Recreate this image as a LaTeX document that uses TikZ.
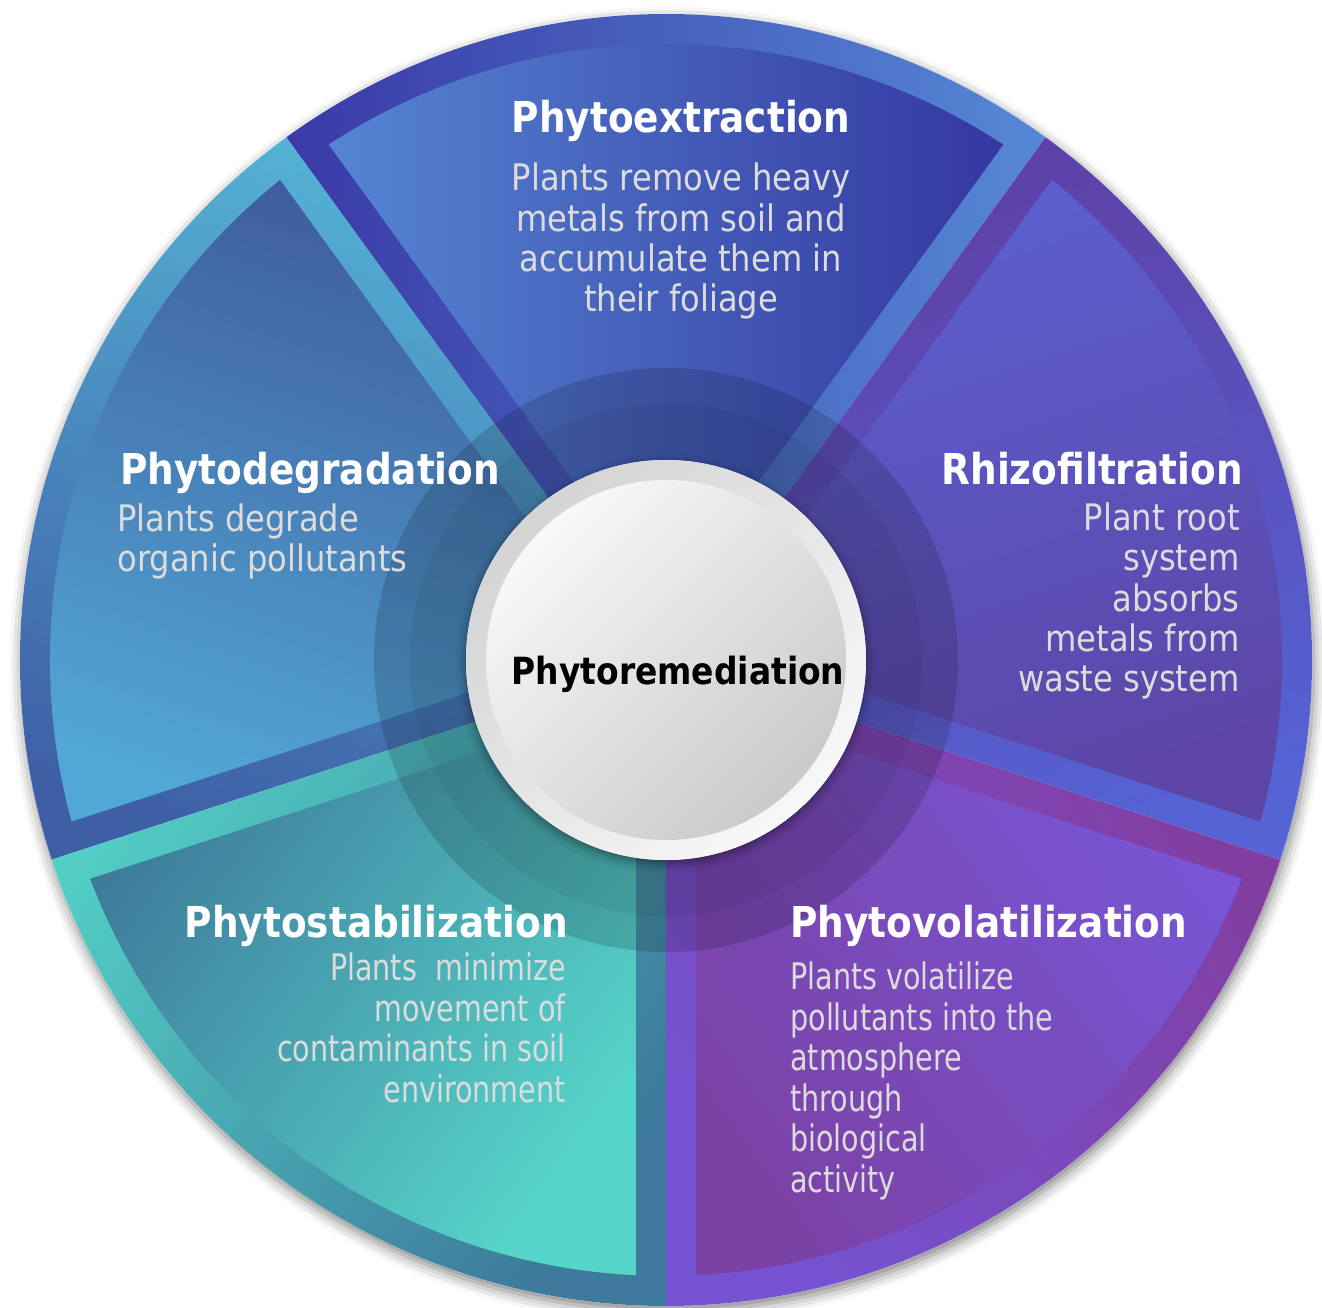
\documentclass[tikz,border=0pt]{standalone}
\usepackage{fontspec}
\setmainfont{DejaVu Sans}[FakeStretch=0.88]
\usetikzlibrary{calc,shadows.blur}

% rim = outer band of a sector, face = inset wedge; 1 = start edge, 2 = end edge
\definecolor{ExtRim1}{HTML}{5588D5}
\definecolor{ExtRim2}{HTML}{3A3AA6}
\definecolor{ExtFace1}{HTML}{3437A0}
\definecolor{ExtFace2}{HTML}{5585D2}
\definecolor{RhiRim1}{HTML}{5563D5}
\definecolor{RhiRim2}{HTML}{5E3FA4}
\definecolor{RhiFace1}{HTML}{5D45A6}
\definecolor{RhiFace2}{HTML}{5B60D0}
\definecolor{DegRim1}{HTML}{55B5D6}
\definecolor{DegRim2}{HTML}{3E5EA6}
\definecolor{DegFace1}{HTML}{3E5A9C}
\definecolor{DegFace2}{HTML}{52A8D5}
\definecolor{StaRim1}{HTML}{53D0C6}
\definecolor{StaRim2}{HTML}{3D7A9B}
\definecolor{StaFace1}{HTML}{3E7A9A}
\definecolor{StaFace2}{HTML}{56D6CA}
\definecolor{VolRim1}{HTML}{7553D2}
\definecolor{VolRim2}{HTML}{823D9F}
\definecolor{VolFace1}{HTML}{7B42A6}
\definecolor{VolFace2}{HTML}{7856D6}
\definecolor{Mist}{HTML}{DCDCDC}
\definecolor{HubRing}{HTML}{D4D4D4}
\definecolor{HubLight}{HTML}{F8F8F8}
\definecolor{HubDark}{HTML}{CACACA}

\tikzset{
  % Shading that runs across a sector, from its start edge to its end edge
  shaded/.style n args={3}{bottom color=#1, top color=#2, shading angle=#3},
  % Full sector, centre to rim
  sector/.style 2 args={insert path={(0,0) -- (#1:646)
      arc[start angle=#1, end angle=#2, radius=646] -- cycle}},
  % Inset wedge, 30 units in from every side of the sector
  face/.style 2 args={insert path={({(#1+#2)/2}:51) -- ({#1+2.8}:616)
      arc[start angle={#1+2.8}, end angle={#2-2.8}, radius=616] -- cycle}},
  % Titles and descriptions (a description is placed by its last line)
  ttl/.style={text=white, inner sep=0pt,
    font=\fontsize{24.2}{28}\selectfont\bfseries},
  desc/.style={text=Mist, inner sep=0pt,
    font=\fontsize{20.8}{23}\selectfont},
  narrow/.style={xscale=0.89, transform shape},
  hub/.style={text=black, inner sep=0pt,
    font=\fontsize{21.3}{25}\selectfont\bfseries}
}

\begin{document}
\begin{tikzpicture}[x=0.02cm, y=0.02cm]
  \useasboundingbox (-666,-648) rectangle (656,660);

  % disc with its drop shadow
  \fill[white, blur shadow={shadow xshift=1pt, shadow yshift=-3pt,
    shadow blur radius=7pt, shadow opacity=50}] (0,0) circle[radius=646];

  % five sectors: rim first, then the inset face
  \path[shaded={ExtRim1}{ExtRim2}{90},   sector={54}{126}];
  \path[shaded={ExtFace1}{ExtFace2}{90}, face={54}{126}];
  \path[shaded={DegRim1}{DegRim2}{162},   sector={126}{198}];
  \path[shaded={DegFace1}{DegFace2}{162}, face={126}{198}];
  \path[shaded={StaRim1}{StaRim2}{234},   sector={198}{270}];
  \path[shaded={StaFace1}{StaFace2}{234}, face={198}{270}];
  \path[shaded={VolRim1}{VolRim2}{306},   sector={270}{342}];
  \path[shaded={VolFace1}{VolFace2}{306}, face={270}{342}];
  \path[shaded={RhiRim1}{RhiRim2}{18},   sector={-18}{54}];
  \path[shaded={RhiFace1}{RhiFace2}{18}, face={-18}{54}];

  % darker halo round the hub
  \fill[black, opacity=.15] (0,0) circle[radius=292];
  \fill[black, opacity=.05] (0,0) circle[radius=256];

  % hub
  \fill[white, blur shadow={shadow xshift=0pt, shadow yshift=-2pt,
    shadow blur radius=5pt, shadow opacity=45}] (0,0) circle[radius=200];
  \shade[top color=HubRing, bottom color=HubLight, shading angle=45]
    (0,0) circle[radius=200];
  \shade[top color=HubLight, bottom color=HubDark, shading angle=45]
    (0,0) circle[radius=180];
  \node[hub, anchor=base] (hubText) at (12,-25) {Phytoremediation};

  % labels
  \node[ttl, anchor=base] (extTitle) at (15,527) {Phytoextraction};
  \node[desc, anchor=base, align=center] (extText) at (15,348)
    {Plants remove heavy\\metals from soil and\\accumulate them in\\their foliage};

  \node[ttl, anchor=base west] (degTitle) at (-546,175) {Phytodegradation};
  \node[desc, anchor=base west, align=left] (degText) at (-549,88)
    {Plants degrade\\organic pollutants};

  \node[ttl, anchor=base east] (rhiTitle) at (577,175) {Rhizofiltration};
  \node[desc, anchor=base east, align=right] (rhiText) at (574,-32)
    {Plant root\\system\\absorbs\\metals from\\waste system};

  \node[ttl, anchor=base east] (staTitle) at (-98,-277) {Phytostabilization};
  \node[desc, narrow, anchor=base east, align=right] (staText) at (-100,-442)
    {Plants\ \ minimize\\movement of\\contaminants in soil\\environment};

  \node[ttl, anchor=base west] (volTitle) at (124,-277) {Phytovolatilization};
  \node[desc, narrow, anchor=base west, align=left] (volText) at (124,-532)
    {Plants volatilize\\pollutants into the\\atmosphere\\through\\biological\\activity};
\end{tikzpicture}
\end{document}
